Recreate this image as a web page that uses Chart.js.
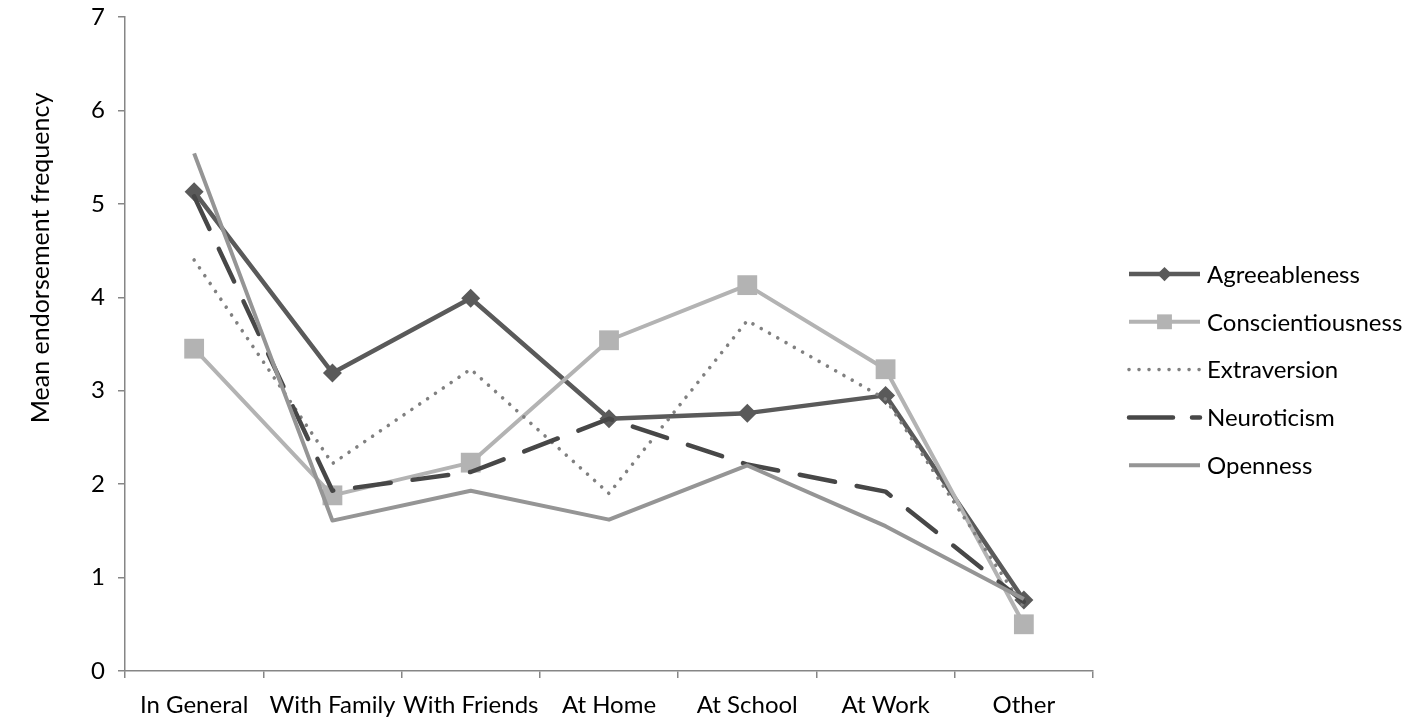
<!DOCTYPE html>
<html>
<head>
<meta charset="utf-8">
<script src="https://cdn.jsdelivr.net/npm/chart.js@4.4.1/dist/chart.umd.min.js"></script>
<style>
  html, body { margin: 0; padding: 0; background: #fff; }
  #wrap { width: 1412px; height: 722px; }
</style>
</head>
<body>
<div id="wrap"><canvas id="chart" width="1412" height="722"></canvas></div>
<script>
// categories
var categories = ["In General", "With Family", "With Friends", "At Home", "At School", "At Work", "Other"];

// series values
var agreeableness = [5.13, 3.19, 3.99, 2.70, 2.76, 2.95, 0.76];
var conscientiousness = [3.45, 1.88, 2.23, 3.54, 4.13, 3.23, 0.50];
var extraversion = [4.40, 2.22, 3.23, 1.90, 3.75, 2.91, 0.68];
var neuroticism = [5.08, 1.93, 2.13, 2.70, 2.21, 1.92, 0.74];
var openness = [5.54, 1.61, 1.93, 1.62, 2.20, 1.55, 0.77];

// y axis ticks
var yTicks = [0, 1, 2, 3, 4, 5, 6, 7];

var FONT = "Lato, 'Open Sans', sans-serif";
var axisColor = "#868686";

// legend + rotated y title, drawn like the excel version
var excelLegend = {
  id: "excelLegend",
  afterDraw: function (chart) {
    var ctx = chart.ctx;
    ctx.save();
    ctx.fillStyle = "#000";
    ctx.font = "25px " + FONT;
    ctx.textAlign = "center";
    ctx.textBaseline = "middle";
    ctx.translate(41, 258);
    ctx.rotate(-Math.PI / 2);
    ctx.fillText("Mean endorsement frequency", 0, 0);
    ctx.restore();

    chart.data.datasets.forEach(function (ds, i) {
      var y = 274 + i * 47.8;
      ctx.save();
      ctx.strokeStyle = ds.borderColor;
      ctx.lineWidth = ds.borderWidth;
      ctx.lineCap = ds.borderCapStyle || "butt";
      ctx.setLineDash(ds.legendDash || []);
      ctx.beginPath();
      ctx.moveTo(1129, y);
      ctx.lineTo(1200, y);
      ctx.stroke();
      ctx.setLineDash([]);
      if (ds.pointStyle && ds.pointRadius > 0) {
        ctx.fillStyle = ds.pointBackgroundColor;
        Chart.helpers.drawPoint(ctx, {
          pointStyle: ds.pointStyle,
          radius: ds.pointRadius * 0.75,
          rotation: 0,
          borderWidth: 0
        }, 1164.5, y);
      }
      ctx.fillStyle = "#000";
      ctx.font = "24px " + FONT;
      ctx.textAlign = "left";
      ctx.textBaseline = "middle";
      ctx.fillText(ds.label, 1207, y + 1);
      ctx.restore();
    });
  }
};

var ctx = document.getElementById("chart").getContext("2d");

new Chart(ctx, {
  type: "line",
  data: {
    labels: categories,
    datasets: [
      {
        label: "Agreeableness",
        data: agreeableness,
        borderColor: "#5a5a5a",
        borderWidth: 4.5,
        pointStyle: "rectRot",
        pointRadius: 9.5,
        pointBackgroundColor: "#5a5a5a",
        pointBorderWidth: 0,
        order: 5
      },
      {
        label: "Conscientiousness",
        data: conscientiousness,
        borderColor: "#b3b3b3",
        borderWidth: 4,
        pointStyle: "rect",
        pointRadius: 14,
        pointBackgroundColor: "#b3b3b3",
        pointBorderWidth: 0,
        order: 4
      },
      {
        label: "Extraversion",
        data: extraversion,
        borderColor: "#808080",
        borderWidth: 3.6,
        borderDash: [0.01, 9.5],
        legendDash: [0.01, 10],
        borderCapStyle: "round",
        pointRadius: 0,
        order: 3
      },
      {
        label: "Neuroticism",
        data: neuroticism,
        borderColor: "#474747",
        borderWidth: 4.5,
        borderDash: [36, 22],
        legendDash: [44, 19],
        borderCapStyle: "round",
        pointRadius: 0,
        order: 2
      },
      {
        label: "Openness",
        data: openness,
        borderColor: "#959595",
        borderWidth: 4,
        pointRadius: 0,
        order: 1
      }
    ]
  },
  options: {
    responsive: false,
    animation: false,
    layout: { padding: { left: 0, right: 319, top: 17, bottom: 0 } },
    elements: { line: { tension: 0, borderJoinStyle: "round" } },
    plugins: {
      legend: { display: false },
      tooltip: { enabled: false }
    },
    scales: {
      x: {
        type: "category",
        offset: true,
        grid: {
          offset: true,
          drawOnChartArea: false,
          drawTicks: true,
          tickLength: 7,
          color: axisColor,
          lineWidth: 1.5
        },
        border: { color: axisColor, width: 1.5 },
        ticks: {
          color: "#000",
          font: { family: FONT, size: 24 },
          padding: 13,
          maxRotation: 0,
          minRotation: 0,
          autoSkip: false
        },
        afterFit: function (scale) {
          scale.height = 51;
          scale.paddingLeft = 0;
          scale.paddingRight = 0;
        }
      },
      y: {
        min: 0,
        max: 7,
        afterBuildTicks: function (scale) {
          scale.ticks = yTicks.map(function (v) { return { value: v }; });
        },
        grid: {
          drawOnChartArea: false,
          drawTicks: true,
          tickLength: 7,
          color: axisColor,
          lineWidth: 1.5
        },
        border: { color: axisColor, width: 1.5 },
        ticks: {
          color: "#000",
          font: { family: FONT, size: 24 },
          padding: 13
        },
        afterFit: function (scale) {
          scale.width = 125;
          scale.paddingTop = 0;
          scale.paddingBottom = 0;
        }
      }
    }
  },
  plugins: [excelLegend]
});
</script>
</body>
</html>
